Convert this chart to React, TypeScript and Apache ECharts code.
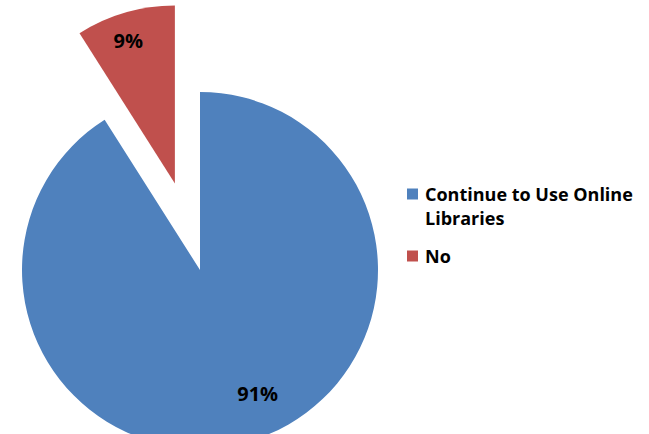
import React, { useEffect, useRef } from "react";
import * as echarts from "echarts";

const categories = ["Continue to Use Online\nLibraries", "No"];
const values = [91, 9];
const colors = ["#4F81BD", "#C0504D"];

export default function App() {
  const ref = useRef<HTMLDivElement>(null);
  useEffect(() => {
    if (!ref.current) return;
    const chart = echarts.init(ref.current, null, { renderer: "svg" });
    const font = "'Open Sans', sans-serif";
    chart.setOption({
      animation: false,
      backgroundColor: "#ffffff",
      legend: {
        orient: "vertical",
        left: 407,
        top: 158,
        padding: 0,
        itemWidth: 11,
        itemHeight: 11,
        itemGap: 14,
        selectedMode: false,
        icon: "rect",
        formatter: (name: string) =>
          name.indexOf("\n") >= 0 ? "\n" + name : name,
        textStyle: {
          fontFamily: font,
          fontWeight: "bold",
          fontSize: 18,
          color: "#000",
          lineHeight: 24,
          padding: [0, 0, 0, 2],
        },
        data: categories,
      },
      series: [
        {
          type: "pie",
          center: [200, 270],
          radius: 178,
          startAngle: 90,
          clockwise: true,
          selectedMode: "single",
          selectedOffset: 90,
          label: {
            show: true,
            position: "inside",
            fontFamily: font,
            fontWeight: "bold",
            fontSize: 20,
            color: "#000",
            rich: {
              v: { fontFamily: font, fontWeight: "bold", fontSize: 20, color: "#000", lineHeight: 24 },
              s: { fontSize: 10, lineHeight: 70 },
              t: { fontSize: 10, lineHeight: 110 },
            },
          },
          labelLine: { show: false },
          emphasis: { disabled: true },
          data: categories.map((c, i) => ({
            name: c,
            value: values[i],
            selected: i === 1,
            itemStyle: { color: colors[i] },
            label:
              i === 0
                ? { padding: [0, 0, 0, 64], formatter: "{s| }\n{v|{d}%}" }
                : { padding: [0, 42, 0, 0], formatter: "{v|{d}%}\n{t| }" },
          })),
        },
      ],
    });
    return () => chart.dispose();
  }, []);
  return <div ref={ref} style={{ width: 649, height: 434, position: "absolute", left: 0, top: 0 }} />;
}
